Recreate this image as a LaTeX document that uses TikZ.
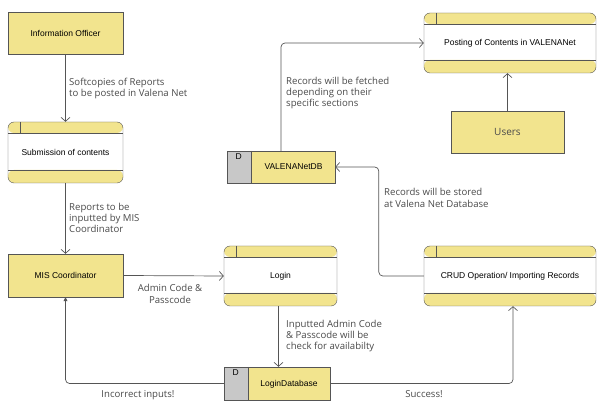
\documentclass[tikz,border=0pt]{standalone}
\usepackage{fontspec}
\setmainfont{Liberation Sans}
\newfontfamily\lblfont{Open Sans}
\usetikzlibrary{arrows.meta,calc}
\definecolor{yfill}{HTML}{F2E48E}
\definecolor{bordc}{HTML}{555555}
\definecolor{gfill}{HTML}{C8C8C8}
\definecolor{lblc}{HTML}{4A4A4A}
\tikzset{
  ent/.style={draw=bordc, fill=yfill, minimum width=#1, inner sep=0pt, font=\fontsize{8.5}{10}\selectfont},
  procbox/.style={draw=bordc, fill=white, rounded corners=6pt, minimum height=60pt, minimum width=#1, inner sep=0pt,
    font=\fontsize{8.5}{10}\selectfont,
    path picture={
      \fill[yfill] (path picture bounding box.north west) rectangle ([yshift=-11pt]path picture bounding box.north east);
      \fill[yfill] (path picture bounding box.south west) rectangle ([yshift=13pt]path picture bounding box.south east);
      \draw[bordc] ([yshift=-11pt]path picture bounding box.north west) -- ([yshift=-11pt]path picture bounding box.north east);
      \draw[bordc] ([yshift=13pt]path picture bounding box.south west) -- ([yshift=13pt]path picture bounding box.south east);
      \draw[bordc] ([xshift=12pt]path picture bounding box.north west) -- ([xshift=12pt,yshift=-11pt]path picture bounding box.north west);
    }},
  storebox/.style={draw=bordc, fill=yfill, inner sep=0pt, minimum width=#1,
    path picture={
      \fill[gfill] (path picture bounding box.north west) rectangle ([xshift=24pt]path picture bounding box.south west);
      \draw[bordc] ([xshift=24pt]path picture bounding box.north west) -- ([xshift=24pt]path picture bounding box.south west);
    }},
  boxtext/.style={font=\fontsize{8.5}{10}\selectfont, inner sep=0pt},
  lbl/.style={font=\lblfont\fontsize{9.6}{11.3}\selectfont, text=lblc, inner sep=0pt, align=left},
  flow/.style={draw=bordc, line width=0.7pt, rounded corners=4pt, -{Straight Barb[length=4pt,width=9pt]}},
}
\begin{document}
\begin{tikzpicture}[x=1pt,y=-1pt]
\useasboundingbox (0,0) rectangle (598,406);
% entities
\node[ent=115pt, minimum height=42pt] (io) at (65.5,33.5) {Information Officer};
\node[ent=115pt, minimum height=43pt] (mis) at (65.5,275.5) {MIS Coordinator};
\node[ent=113pt, minimum height=42pt, font=\lblfont\fontsize{10}{11}\selectfont, text=lblc] (users) at (507.5,132) {Users};
% processes
\node[procbox=115pt, minimum height=61pt] (sub) at (65.5,152.5) {Submission of contents};
\node[procbox=113pt] (login) at (280.5,276) {Login};
\node[procbox=172pt] (crud) at (510,276) {CRUD Operation/ Importing Records};
\node[procbox=172pt] (post) at (510,43) {Posting of Contents in VALENANet};
% data stores
\node[storebox=108pt, minimum height=32pt] (valdb) at (281,167) {};
\node[boxtext] (valdbt) at (293.5,167) {VALENANetDB};
\node[boxtext, anchor=north] (valdbd) at ([xshift=12pt,yshift=-3pt]valdb.north west) {D};
\node[storebox=106pt, minimum height=33pt] (logindb) at (277,383.5) {};
\node[boxtext] (logindbt) at (289,384) {LoginDatabase};
\node[boxtext, anchor=north] (logindbd) at ([xshift=12pt,yshift=-3pt]logindb.north west) {D};
% connectors
\draw[flow] (io.south) -- (sub.north);
\draw[flow] (sub.south) -- (mis.north);
\draw[flow] (mis.east) -- (login.west);
\draw[flow] ([xshift=-2pt]login.south) -- ([xshift=-2pt]login.south |- logindb.north);
\draw[draw=bordc, line width=0.7pt, rounded corners=4pt, -{Triangle[length=4pt,width=4pt]}] (logindb.west) -| (mis.south);
\draw[flow] (logindb.east) -| ([xshift=3pt]crud.south);
\draw[flow] (crud.west) -- ++(-45,0) |- (valdb.east);
\draw[flow] (valdb.north) |- (post.west);
\draw[flow] (users.north) -- (users.north |- post.south);
% labels
\node[lbl, anchor=west] (l1) at (69,88.5) {Softcopies of Reports\\to be posted in Valena Net};
\node[lbl, anchor=west] (l2) at (69,218) {Reports to be\\inputted by MIS\\Coordinator};
\node[lbl, align=center] (l3) at (170,294) {Admin Code \&\\Passcode};
\node[lbl, anchor=west] (l4) at (286,336) {Inputted Admin Code\\\& Passcode will be\\check for availabilty};
\node[lbl] (l5) at (138,395) {Incorrect inputs!};
\node[lbl] (l6) at (424,394) {Success!};
\node[lbl, anchor=west] (l7) at (384,198) {Records will be stored\\at Valena Net Database};
\node[lbl, anchor=west] (l8) at (286,93) {Records will be fetched\\depending on their\\specific sections};
\end{tikzpicture}
\end{document}
